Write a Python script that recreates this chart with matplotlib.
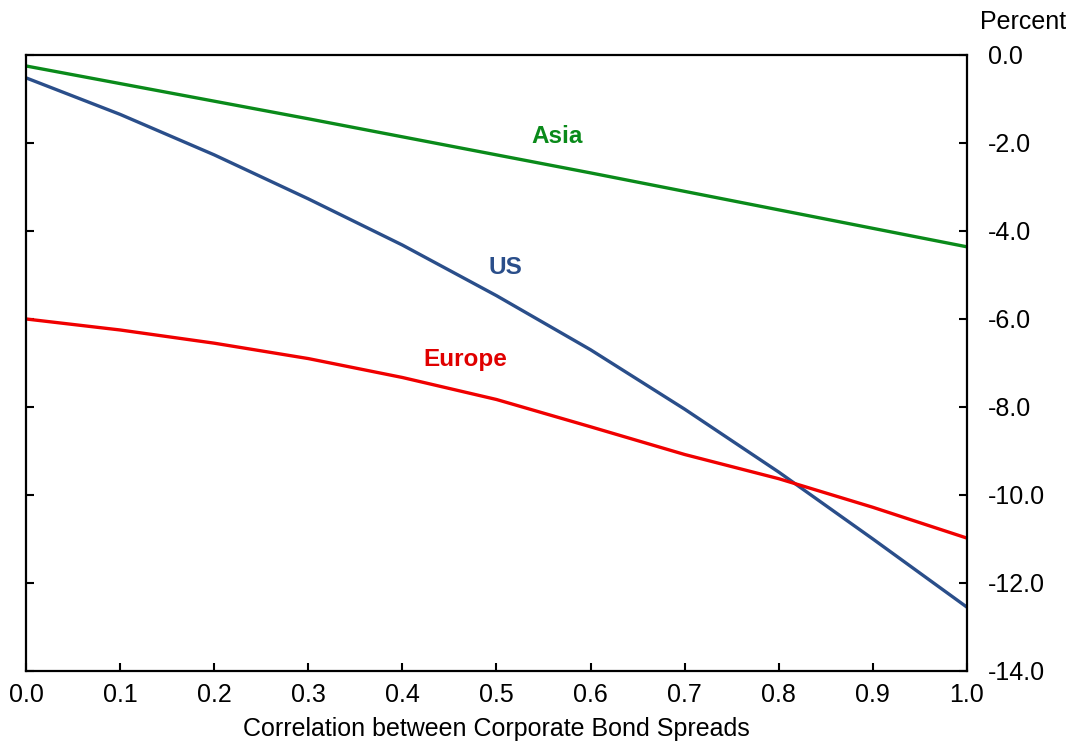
import numpy as np
import matplotlib.pyplot as plt

plt.rcParams['font.family'] = ['Liberation Sans', 'DejaVu Sans']
plt.rcParams['axes.unicode_minus'] = False

corr = [0.0, 0.1, 0.2, 0.3, 0.4, 0.5, 0.6, 0.7, 0.8, 0.9, 1.0]
asia = [-0.25, -0.65, -1.05, -1.45, -1.86, -2.27, -2.68, -3.10, -3.52, -3.94, -4.36]
us = [-0.52, -1.35, -2.27, -3.27, -4.32, -5.47, -6.70, -8.05, -9.48, -11.00, -12.55]
europe = [-6.00, -6.25, -6.55, -6.90, -7.33, -7.83, -8.45, -9.08, -9.63, -10.28, -10.98]

fig = plt.figure(figsize=(10.72, 7.41), dpi=100)
ax = fig.add_axes([0.0243, 0.0945, 0.8777, 0.8313])

ax.plot(corr, asia, color='#0A8A1A', lw=2.4)
ax.plot(corr, us, color='#2A4E8A', lw=2.4)
ax.plot(corr, europe, color='#F00000', lw=2.4)

ax.text(0.564, -1.86, 'Asia', color='#0A8A1A', fontsize=17.5, fontweight='bold', ha='center', va='center')
ax.text(0.509, -4.84, 'US', color='#2A4E8A', fontsize=17.5, fontweight='bold', ha='center', va='center')
ax.text(0.467, -6.93, 'Europe', color='#E00000', fontsize=17.5, fontweight='bold', ha='center', va='center')

ax.set_xlim(0, 1)
ax.set_ylim(-14, 0)
ax.set_xticks(np.arange(0, 1.01, 0.1))
ax.set_yticks(np.arange(-14, 0.01, 2))
ax.xaxis.set_major_formatter(plt.FormatStrFormatter('%.1f'))
ax.yaxis.set_major_formatter(plt.FormatStrFormatter('%.1f'))
ax.yaxis.tick_right()
ax.tick_params(axis='y', which='both', direction='in', left=True, right=True,
               labelleft=False, labelright=True, length=6, width=1.5, labelsize=18, pad=15)
ax.tick_params(axis='x', direction='in', length=6, width=1.5, labelsize=18, pad=9)
for s in ax.spines.values():
    s.set_linewidth(1.6)

ax.set_xlabel('Correlation between Corporate Bond Spreads', fontsize=18, labelpad=7)
fig.text(0.9945, 0.97, 'Percent', fontsize=18, ha='right', va='center')

fig.savefig('out.png', dpi=100)
